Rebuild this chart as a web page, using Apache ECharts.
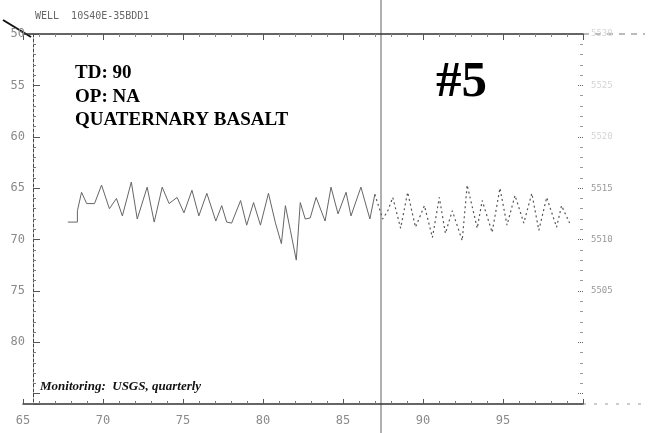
<!DOCTYPE html>
<html>
<head>
<meta charset="utf-8">
<script src="https://cdn.jsdelivr.net/npm/echarts@6/dist/echarts.min.js"></script>
<style>html,body{margin:0;padding:0;background:#fff}#c{width:654px;height:433px}</style>
</head>
<body>
<div id="c"></div>
<script>
// Years (19xx) and depth to water (ft below land surface)
var years1 = [67.8,68.4,68.4,68.66,68.98,69.47,69.91,70.40,70.84,71.21,71.77,72.14,72.76,73.20,73.32,73.70,74.13,74.63,75.06,75.56,75.99,76.49,77.05,77.42,77.73,78.04,78.60,78.98,79.41,79.84,80.34,80.78,81.15,81.40,81.71,82.08,82.33,82.64,82.95,83.32,83.88,84.25,84.69,85.19,85.50,86.12,86.68,86.99];
var depths1 = [68.3,68.3,67.2,65.4,66.5,66.5,64.7,67.0,66.0,67.7,64.4,68.0,64.9,68.3,67.5,64.9,66.5,65.9,67.4,65.2,67.7,65.5,68.2,66.7,68.3,68.4,66.2,68.6,66.4,68.6,65.5,68.4,70.4,66.7,69.1,72.0,66.4,68.0,67.9,65.9,68.2,64.9,67.5,65.4,67.7,64.9,68.0,65.6];
var years2 = [86.99,87.48,87.80,88.11,88.60,89.04,89.53,90.09,90.59,91.02,91.40,91.83,92.45,92.76,93.39,93.70,94.32,94.81,95.25,95.75,96.30,96.80,97.24,97.73,98.35,98.66,99.16];
var depths2 = [65.6,68.0,67.2,65.9,68.9,65.4,68.8,66.7,69.8,65.9,69.4,67.2,70.1,64.7,68.9,66.2,69.3,65.0,68.6,65.7,68.4,65.5,69.1,65.9,68.8,66.7,68.4];
var xTicks = [65,70,75,80,85,90,95];
var yTicks = [50,55,60,65,70,75,80];
var elevBase = 5580;

function pairs(xs, ys){ return xs.map(function(x,i){ return [x, ys[i]]; }); }

var chart = echarts.init(document.getElementById('c'), null, {renderer:'canvas'});
var grayFont = {color:'#8a8a8a', fontFamily:'DejaVu Sans Mono', fontSize:12};
chart.setOption({
  animation:false,
  backgroundColor:'#fff',
  grid:{left:23, right:71, top:34, bottom:29, containLabel:false},
  xAxis:[{
    type:'value', min:65, max:100, interval:5, position:'bottom',
    axisLine:{show:true, lineStyle:{color:'#333', width:1.5}},
    axisTick:{show:true, inside:true, length:5, lineStyle:{color:'#555'}},
    minorTick:{show:true, splitNumber:5, length:3, lineStyle:{color:'#777'}},
    splitLine:{show:false},
    axisLabel:Object.assign({margin:11, showMaxLabel:false, formatter:function(v){return xTicks.indexOf(v)>=0? String(v):'';}}, grayFont)
  },{
    type:'value', min:65, max:100, interval:5, position:'top',
    axisLine:{show:true, lineStyle:{color:'#333', width:1.5}},
    axisTick:{show:true, inside:true, length:6, lineStyle:{color:'#555'}},
    minorTick:{show:true, splitNumber:5, length:3, lineStyle:{color:'#888'}},
    splitLine:{show:false}, axisLabel:{show:false}
  }],
  yAxis:[{
    type:'value', inverse:true, min:50, max:86, interval:5, position:'left', offset:-10,
    axisLine:{show:true, lineStyle:{color:'#444', width:1, type:[3,2]}},
    axisTick:{show:true, inside:true, length:7, lineStyle:{color:'#555'}},
    minorTick:{show:true, splitNumber:5, length:3, lineStyle:{color:'#777'}},
    splitLine:{show:false},
    axisLabel:Object.assign({margin:8, formatter:function(v){return yTicks.indexOf(v)>=0? String(v):'';}}, grayFont)
  },{
    type:'value', inverse:true, min:50, max:86, interval:5, position:'right',
    axisLine:{show:false},
    axisTick:{show:true, inside:true, length:6, lineStyle:{color:'#666', type:'dotted'}},
    minorTick:{show:true, splitNumber:5, length:3, lineStyle:{color:'#999'}},
    splitLine:{show:false},
    axisLabel:{margin:8, fontFamily:'DejaVu Sans Mono', fontSize:9,
      color:function(v){ return v>=65 ? '#999' : '#d4d4d4'; },
      formatter:function(v){ return (v>=50 && v<=75) ? String(elevBase - v) : ''; }}
  }],
  series:[{
    type:'line', xAxisIndex:0, yAxisIndex:0, data:pairs(years1, depths1),
    showSymbol:false, lineStyle:{color:'#666', width:1}
  },{
    type:'line', xAxisIndex:0, yAxisIndex:0, data:pairs(years2, depths2),
    showSymbol:false, lineStyle:{color:'#555', width:1.2, type:[2,3]}
  }],
  graphic:[
    {type:'line', shape:{x1:381, y1:0, x2:381, y2:433}, style:{stroke:'#b0b0b0', lineWidth:2}, z:-1},
    {type:'line', shape:{x1:583, y1:34, x2:645, y2:34}, style:{stroke:'#777', lineWidth:1, lineDash:[6,6]}},
    {type:'line', shape:{x1:583, y1:404, x2:645, y2:404}, style:{stroke:'#999', lineWidth:1, lineDash:[3,8]}},
    {type:'line', shape:{x1:3, y1:20, x2:31, y2:37}, style:{stroke:'#111', lineWidth:2}},
    {type:'text', left:35, top:11, style:{text:'WELL  10S40E-35BDD1', font:'10px "DejaVu Sans Mono"', fill:'#666'}},
    {type:'text', left:75, top:64, style:{text:'TD: 90', font:'bold 19px "Liberation Serif"', fill:'#000'}},
    {type:'text', left:75, top:88, style:{text:'OP: NA', font:'bold 19px "Liberation Serif"', fill:'#000'}},
    {type:'text', left:75, top:111, style:{text:'QUATERNARY BASALT', font:'bold 19px "Liberation Serif"', fill:'#000'}},
    {type:'text', left:436, top:57, style:{text:'#5', font:'bold 51px "Liberation Serif"', fill:'#000'}},
    {type:'text', left:40, top:380, style:{text:'Monitoring:  USGS, quarterly', font:'italic bold 13px "Liberation Serif"', fill:'#111'}}
  ]
});
</script>
</body>
</html>
